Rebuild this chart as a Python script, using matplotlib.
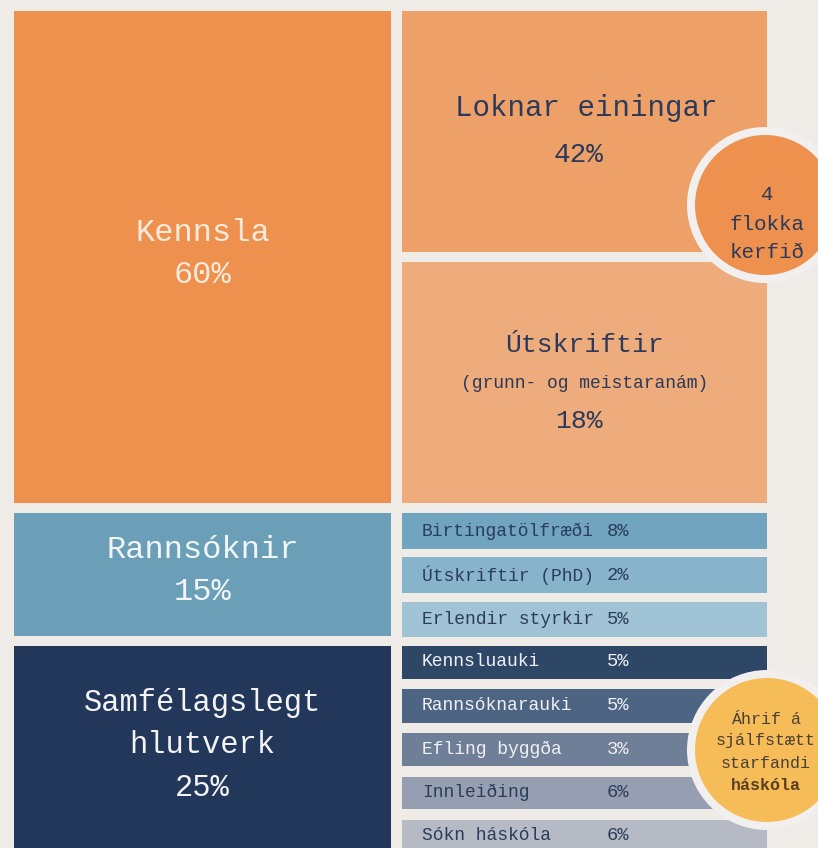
import matplotlib
matplotlib.use("Agg")
import matplotlib.pyplot as plt
from matplotlib.patches import Rectangle, Circle

# ---------------- data ----------------
main_labels = ["Kennsla", "Rannsóknir", "Samfélagslegt\nhlutverk"]
main_values = [60, 15, 25]
teaching_labels = ["Loknar einingar", "Útskriftir"]
teaching_notes = ["", "(grunn- og meistaranám)"]
teaching_values = [42, 18]
sub_labels = ["Birtingatölfræði", "Útskriftir (PhD)", "Erlendir styrkir",
              "Kennsluauki", "Rannsóknarauki", "Efling byggða",
              "Innleiðing", "Sókn háskóla"]
sub_values = [8, 2, 5, 5, 5, 3, 6, 6]
callout_texts = ["4\nflokka\nkerfið", "Áhrif á\nsjálfstætt\nstarfandi\nháskóla"]

# ---------------- style / layout ----------------
BG = "#EFEBE6"
RING = "#F2F0EE"
FONT = "Liberation Mono"
main_colors = ["#EE914F", "#6B9FB8", "#22375A"]
main_text_colors = ["#FBEBDD", "#F3F6F8", "#F4F4F4"]
teach_colors = ["#EDA068", "#EEAB7B"]
sub_colors = ["#70A4BF", "#88B4CB", "#A0C4D6",
              "#2F4767", "#4E6483", "#707F98", "#969FB1", "#B6BAC5"]
sub_text_colors = ["#2B3C5C", "#2B3C5C", "#2B3C5C",
                   "#EEF0F4", "#EEF0F4", "#EEF0F4", "#2B3C5C", "#2B3C5C"]
NAVY = "#2B3A5A"

W, H = 818, 848
fig = plt.figure(figsize=(W / 100, H / 100), dpi=100, facecolor=BG)
ax = fig.add_axes([0, 0, 1, 1])
ax.set_xlim(0, W)
ax.set_ylim(H, 0)
ax.axis("off")
ax.set_facecolor(BG)

LX0, LX1 = 14, 391
RX0, RX1 = 402, 767

# left main boxes: Kennsla, Rannsóknir, Samfélagslegt
left_rows = [(11, 503), (513, 636), (646, 870)]
text_pos = [[(233, main_labels[0]), (275, f"{main_values[0]}%")],
            [(550, main_labels[1]), (592, f"{main_values[1]}%")],
            [(703, "Samfélagslegt"), (745, "hlutverk"), (788, f"{main_values[2]}%")]]
sizes = [23, 23, 22]
for i, (y0, y1) in enumerate(left_rows):
    ax.add_patch(Rectangle((LX0, y0), LX1 - LX0, y1 - y0,
                           facecolor=main_colors[i], edgecolor="none"))
    for (ty, s) in text_pos[i]:
        ax.text((LX0 + LX1) / 2, ty, s, ha="center", va="center",
                fontsize=sizes[i], color=main_text_colors[i], family=FONT)

# teaching sub-boxes
teach_rows = [(11, 252), (262, 503)]
for i, (y0, y1) in enumerate(teach_rows):
    ax.add_patch(Rectangle((RX0, y0), RX1 - RX0, y1 - y0,
                           facecolor=teach_colors[i], edgecolor="none"))
cx = (RX0 + RX1) / 2
ax.text(cx + 2, 108, teaching_labels[0], ha="center", va="center",
        fontsize=21, color=NAVY, family=FONT)
ax.text(cx - 6, 155, f"{teaching_values[0]}%", ha="center", va="center",
        fontsize=20, color=NAVY, family=FONT)
ax.text(cx, 345, teaching_labels[1], ha="center", va="center",
        fontsize=19, color=NAVY, family=FONT)
ax.text(cx, 383, teaching_notes[1], ha="center", va="center",
        fontsize=13, color=NAVY, family=FONT)
ax.text(cx - 6, 421, f"{teaching_values[1]}%", ha="center", va="center",
        fontsize=19, color=NAVY, family=FONT)

# research / social sub-bars
bar_y = [531, 575, 619.5, 662, 705.5, 749, 792.5, 836]
bar_h = [36, 36, 35, 33, 34, 33, 32, 33]
ax.barh(bar_y, [RX1 - RX0] * len(bar_y), height=bar_h, left=RX0,
        color=sub_colors, edgecolor="none")
for i, (lab, val) in enumerate(zip(sub_labels, sub_values)):
    ax.text(422, bar_y[i], lab, ha="left", va="center", fontsize=13,
            color=sub_text_colors[i], family=FONT)
    ax.text(607, bar_y[i], f"{val}%", ha="left", va="center", fontsize=13.5,
            color=sub_text_colors[i], family=FONT)

# callout circles
circles = [((765, 205), 70, "#EE914F"), ((767, 750), 72, "#F5BC57")]
for (c, r, col) in circles:
    ax.add_patch(Circle(c, r + 8, facecolor=RING, edgecolor="none", zorder=5))
    ax.add_patch(Circle(c, r, facecolor=col, edgecolor="none", zorder=6))

for ty, s in zip([195, 225, 252], callout_texts[0].split("\n")):
    ax.text(767, ty, s, ha="center", va="center", fontsize=15,
            color=NAVY, family=FONT, zorder=7)
lines2 = callout_texts[1].split("\n")
for j, (ty, s) in enumerate(zip([719, 741, 763, 786], lines2)):
    ax.text(766, ty, s, ha="center", va="center", fontsize=12,
            color="#5A3E22" if j == 3 else "#4A4038",
            fontweight="bold" if j == 3 else "normal",
            family=FONT, zorder=7)

fig.savefig("out.png", dpi=100, facecolor=BG)
